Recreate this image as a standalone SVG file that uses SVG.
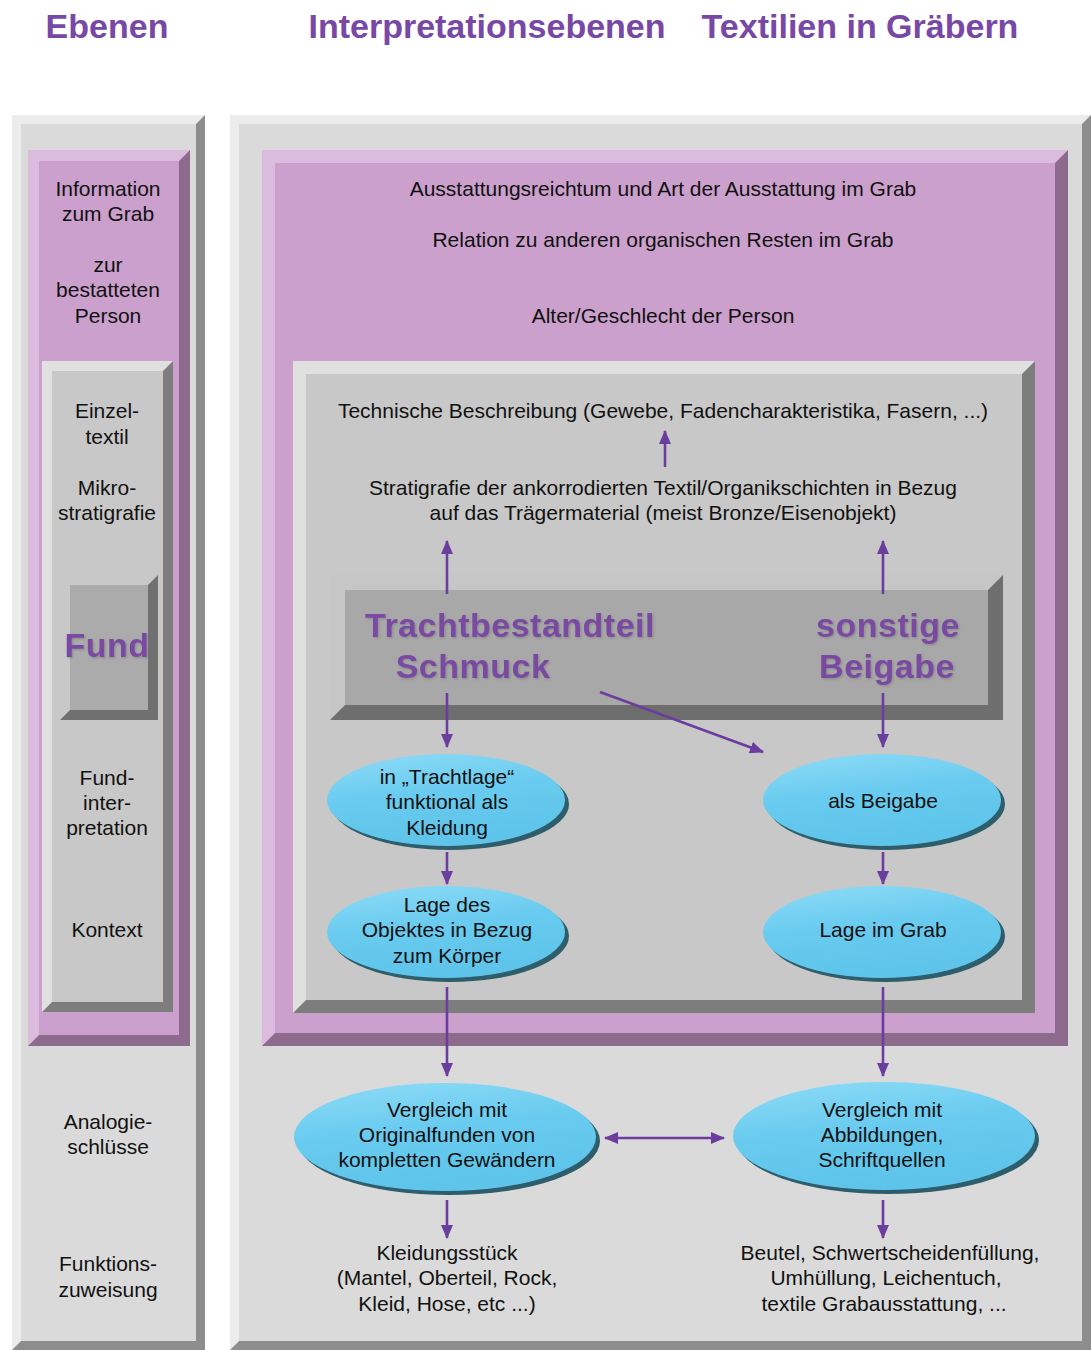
<svg xmlns="http://www.w3.org/2000/svg" width="1091" height="1350" viewBox="0 0 1091 1350">
<defs>
<style>
.t{font-family:"Liberation Sans",Arial,sans-serif;font-size:21px;fill:#111;text-anchor:middle}
.title{font-family:"Liberation Sans",Arial,sans-serif;font-size:34px;font-weight:bold;fill:#7848a6;text-anchor:middle}
.big{font-family:"Liberation Sans",Arial,sans-serif;font-size:34px;font-weight:bold;fill:#7a4aa2;text-anchor:middle;letter-spacing:0.5px}
.con{stroke:#6b3d9e;stroke-width:2.6;fill:none}
.ell{fill:url(#blue)}
.sh{fill:#2e5d6b}
</style>
<linearGradient id="blue" x1="0" y1="0" x2="0.3" y2="1">
<stop offset="0" stop-color="#8fdcf7"/>
<stop offset="0.5" stop-color="#69cbef"/>
<stop offset="1" stop-color="#5ec4ea"/>
</linearGradient>
<filter id="tsh" x="-5%" y="-20%" width="110%" height="140%">
<feDropShadow dx="1.2" dy="1.2" stdDeviation="0.8" flood-color="#666" flood-opacity="0.45"/>
</filter>
<marker id="ah" viewBox="0 0 14 12" refX="13" refY="6" markerWidth="14" markerHeight="12" markerUnits="userSpaceOnUse" orient="auto-start-reverse">
<path d="M0,0 L14,6 L0,12 z" fill="#6b3d9e"/>
</marker>
</defs>
<rect width="1091" height="1350" fill="#ffffff"/>

<g id="titles">
<text class="title" x="107" y="38">Ebenen</text>
<text class="title" x="487" y="38">Interpretationsebenen</text>
<text class="title" x="860" y="38">Textilien in Gräbern</text>
</g>

<g id="left-outer">
<rect x="12" y="115" width="193" height="1235" fill="#8d8d8d"/>
<polygon points="12,115 205,115 196,124 21,124 21,1341 12,1350" fill="#ececec"/>
<rect x="21" y="124" width="175" height="1217" fill="#dadada"/>
<text class="t" x="108" y="1129">Analogie-</text>
<text class="t" x="108" y="1154">schlüsse</text>
<text class="t" x="108" y="1271">Funktions-</text>
<text class="t" x="108" y="1297">zuweisung</text>
</g>

<g id="right-outer">
<rect x="230" y="115" width="861" height="1235" fill="#8d8d8d"/>
<polygon points="230,115 1091,115 1082,124 239,124 239,1341 230,1350" fill="#ececec"/>
<rect x="239" y="124" width="843" height="1217" fill="#dadada"/>
</g>

<g id="left-pink">
<rect x="28" y="150" width="162" height="896" fill="#8c6b8c"/>
<polygon points="28,150 190,150 179,161 39,161 39,1035 28,1046" fill="#dcbcde"/>
<rect x="39" y="161" width="140" height="874" fill="#cba0cc"/>
<text class="t" x="108" y="196">Information</text>
<text class="t" x="108" y="221">zum Grab</text>
<text class="t" x="108" y="272">zur</text>
<text class="t" x="108" y="297">bestatteten</text>
<text class="t" x="108" y="323">Person</text>
</g>

<g id="right-pink">
<rect x="262" y="150" width="806" height="896" fill="#8c6b8c"/>
<polygon points="262,150 1068,150 1055,163 275,163 275,1033 262,1046" fill="#dcbcde"/>
<rect x="275" y="163" width="780" height="870" fill="#cba0cc"/>
<text class="t" x="663" y="196">Ausstattungsreichtum und Art der Ausstattung im Grab</text>
<text class="t" x="663" y="247">Relation zu anderen organischen Resten im Grab</text>
<text class="t" x="663" y="323">Alter/Geschlecht der Person</text>
</g>

<g id="left-inner">
<rect x="42" y="361" width="131" height="651" fill="#7d7d7d"/>
<polygon points="42,361 173,361 163,371 52,371 52,1002 42,1012" fill="#e0e0e0"/>
<rect x="52" y="371" width="111" height="631" fill="#c8c8c8"/>
<text class="t" x="107" y="418">Einzel-</text>
<text class="t" x="107" y="444">textil</text>
<text class="t" x="107" y="495">Mikro-</text>
<text class="t" x="107" y="520">stratigrafie</text>
<text class="t" x="107" y="785">Fund-</text>
<text class="t" x="107" y="810">inter-</text>
<text class="t" x="107" y="835">pretation</text>
<text class="t" x="107" y="937">Kontext</text>
</g>

<g id="fund">
<rect x="60" y="575" width="98" height="145" fill="#707070"/>
<polygon points="60,575 158,575 148,585 70,585 70,710 60,720" fill="#c8c8c8"/>
<rect x="70" y="585" width="78" height="125" fill="#ababab"/>
<text class="big" x="107" y="657" filter="url(#tsh)">Fund</text>
</g>

<g id="right-inner">
<rect x="293" y="361" width="742" height="652" fill="#7d7d7d"/>
<polygon points="293,361 1035,361 1022,374 306,374 306,1000 293,1013" fill="#e0e0e0"/>
<rect x="306" y="374" width="716" height="626" fill="#c8c8c8"/>
<text class="t" x="663" y="418">Technische Beschreibung (Gewebe, Fadencharakteristika, Fasern, ...)</text>
<text class="t" x="663" y="495">Stratigrafie der ankorrodierten Textil/Organikschichten in Bezug</text>
<text class="t" x="663" y="520">auf das Trägermaterial (meist Bronze/Eisenobjekt)</text>
</g>

<g id="band">
<rect x="330" y="575" width="673" height="145" fill="#6e6e6e"/>
<polygon points="330,575 1003,575 988,590 345,590 345,705 330,720" fill="#c6c6c6"/>
<rect x="345" y="590" width="643" height="115" fill="#a8a8a8"/>
<g filter="url(#tsh)">
<text class="big" x="510" y="637">Trachtbestandteil</text>
<text class="big" x="473" y="678">Schmuck</text>
<text class="big" x="888" y="637">sonstige</text>
<text class="big" x="887" y="678">Beigabe</text>
</g>
</g>

<g id="e-trachtlage">
<ellipse class="sh" cx="450" cy="804" rx="119" ry="46"/>
<ellipse class="ell" cx="446" cy="800" rx="119" ry="46"/>
<text class="t" x="447" y="784">in „Trachtlage“</text>
<text class="t" x="447" y="809">funktional als</text>
<text class="t" x="447" y="835">Kleidung</text>
</g>

<g id="e-lage-objekt">
<ellipse class="sh" cx="450" cy="936" rx="119" ry="46"/>
<ellipse class="ell" cx="446" cy="932" rx="119" ry="46"/>
<text class="t" x="447" y="912">Lage des</text>
<text class="t" x="447" y="937">Objektes in Bezug</text>
<text class="t" x="447" y="963">zum Körper</text>
</g>

<g id="e-beigabe">
<ellipse class="sh" cx="886" cy="804" rx="119" ry="46"/>
<ellipse class="ell" cx="882" cy="800" rx="119" ry="46"/>
<text class="t" x="883" y="808">als Beigabe</text>
</g>

<g id="e-lage-grab">
<ellipse class="sh" cx="886" cy="936" rx="119" ry="46"/>
<ellipse class="ell" cx="882" cy="932" rx="119" ry="46"/>
<text class="t" x="883" y="937">Lage im Grab</text>
</g>

<g id="e-originalfunde">
<ellipse class="sh" cx="449" cy="1141" rx="151" ry="54"/>
<ellipse class="ell" cx="445" cy="1137" rx="151" ry="54"/>
<text class="t" x="447" y="1117">Vergleich mit</text>
<text class="t" x="447" y="1142">Originalfunden von</text>
<text class="t" x="447" y="1167">kompletten Gewändern</text>
</g>

<g id="e-abbildungen">
<ellipse class="sh" cx="888" cy="1140" rx="151" ry="54"/>
<ellipse class="ell" cx="884" cy="1136" rx="151" ry="54"/>
<text class="t" x="882" y="1117">Vergleich mit</text>
<text class="t" x="882" y="1142">Abbildungen,</text>
<text class="t" x="882" y="1167">Schriftquellen</text>
</g>

<g id="kleidung">
<text class="t" x="447" y="1260">Kleidungsstück</text>
<text class="t" x="447" y="1285">(Mantel, Oberteil, Rock,</text>
<text class="t" x="447" y="1311">Kleid, Hose, etc ...)</text>
</g>

<g id="beutel">
<text class="t" x="890" y="1260">Beutel, Schwertscheidenfüllung,</text>
<text class="t" x="886" y="1285">Umhüllung, Leichentuch,</text>
<text class="t" x="884" y="1311">textile Grabausstattung, ...</text>
</g>

<g id="connectors">
<line class="con" x1="665" y1="467" x2="665" y2="431" marker-end="url(#ah)"/>
<line class="con" x1="447" y1="594" x2="447" y2="541" marker-end="url(#ah)"/>
<line class="con" x1="883" y1="594" x2="883" y2="541" marker-end="url(#ah)"/>
<line class="con" x1="447" y1="693" x2="447" y2="747" marker-end="url(#ah)"/>
<line class="con" x1="883" y1="693" x2="883" y2="747" marker-end="url(#ah)"/>
<line class="con" x1="600" y1="692" x2="763" y2="752" marker-end="url(#ah)"/>
<line class="con" x1="447" y1="852" x2="447" y2="884" marker-end="url(#ah)"/>
<line class="con" x1="883" y1="852" x2="883" y2="884" marker-end="url(#ah)"/>
<line class="con" x1="447" y1="987" x2="447" y2="1076" marker-end="url(#ah)"/>
<line class="con" x1="883" y1="987" x2="883" y2="1076" marker-end="url(#ah)"/>
<line class="con" x1="605" y1="1138" x2="724" y2="1138" marker-start="url(#ah)" marker-end="url(#ah)"/>
<line class="con" x1="447" y1="1200" x2="447" y2="1238" marker-end="url(#ah)"/>
<line class="con" x1="883" y1="1200" x2="883" y2="1238" marker-end="url(#ah)"/>
</g>
</svg>
